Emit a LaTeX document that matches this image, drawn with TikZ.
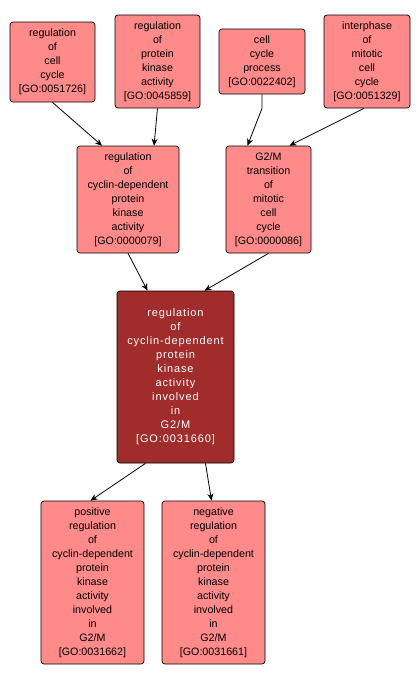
\documentclass[tikz,border=0pt]{standalone}
\usepackage{fontspec}
\setmainfont{Liberation Sans}
\usetikzlibrary{arrows.meta}
\definecolor{golight}{RGB}{255,138,138}
\definecolor{godark}{RGB}{160,44,44}
\tikzset{
  gonode/.style={draw=black, line width=0.7pt, rounded corners=3pt, fill=golight, inner sep=0pt,
    align=center, font=\fontsize{10.7}{14}\selectfont, text=black},
  godarknode/.style={gonode, fill=godark, text=white, font=\fontsize{11}{14}\selectfont\addfontfeatures{LetterSpace=8}},
  goedge/.style={-{Stealth[length=7pt,width=6pt]}, line width=0.8pt, black}
}
\begin{document}
\begin{tikzpicture}[x=1pt,y=-1pt]
\useasboundingbox[fill=white] (0,0) rectangle (420,681);
\node[gonode, minimum width=85pt, minimum height=80pt] (n1) at (52.5,62) {regulation\\of\\cell\\cycle\\{[GO:0051726]}};
\node[gonode, minimum width=85pt, minimum height=93pt] (n2) at (157.5,61.5) {regulation\\of\\protein\\kinase\\activity\\{[GO:0045859]}};
\node[gonode, minimum width=86pt, minimum height=65pt] (n3) at (262,61.5) {cell\\cycle\\process\\{[GO:0022402]}};
\node[gonode, minimum width=86pt, minimum height=93pt] (n4) at (367,61.5) {interphase\\of\\mitotic\\cell\\cycle\\{[GO:0051329]}};
\node[gonode, minimum width=102pt, minimum height=107pt] (n5) at (128,199.5) {regulation\\of\\cyclin-dependent\\protein\\kinase\\activity\\{[GO:0000079]}};
\node[gonode, minimum width=85pt, minimum height=107pt] (n6) at (268.5,199.5) {G2/M\\transition\\of\\mitotic\\cell\\cycle\\{[GO:0000086]}};
\node[godarknode, minimum width=117pt, minimum height=172pt] (n7) at (175.5,377) {regulation\\of\\cyclin-dependent\\protein\\kinase\\activity\\involved\\in\\G2/M\\{[GO:0031660]}};
\node[gonode, minimum width=103pt, minimum height=163pt] (n8) at (92.5,582.5) {positive\\regulation\\of\\cyclin-dependent\\protein\\kinase\\activity\\involved\\in\\G2/M\\{[GO:0031662]}};
\node[gonode, minimum width=103pt, minimum height=163pt] (n9) at (213.5,582.5) {negative\\regulation\\of\\cyclin-dependent\\protein\\kinase\\activity\\involved\\in\\G2/M\\{[GO:0031661]}};
\draw[goedge] (n1.south) -- ([xshift=-26pt]n5.north);
\draw[goedge] (n2.south) -- ([xshift=26pt]n5.north);
\draw[goedge] (n3.south) -- ++(0,14) -- ([xshift=-21pt]n6.north);
\draw[goedge] ([xshift=-3pt]n4.south) -- ([xshift=21pt]n6.north);
\draw[goedge] (n5.south) -- ([xshift=-28pt]n7.north);
\draw[goedge] (n6.south) -- ([xshift=29pt]n7.north);
\draw[goedge] ([xshift=-30pt]n7.south) -- ([xshift=-2pt]n8.north);
\draw[goedge] ([xshift=30pt]n7.south) -- ([xshift=-2pt]n9.north);
\end{tikzpicture}
\end{document}
